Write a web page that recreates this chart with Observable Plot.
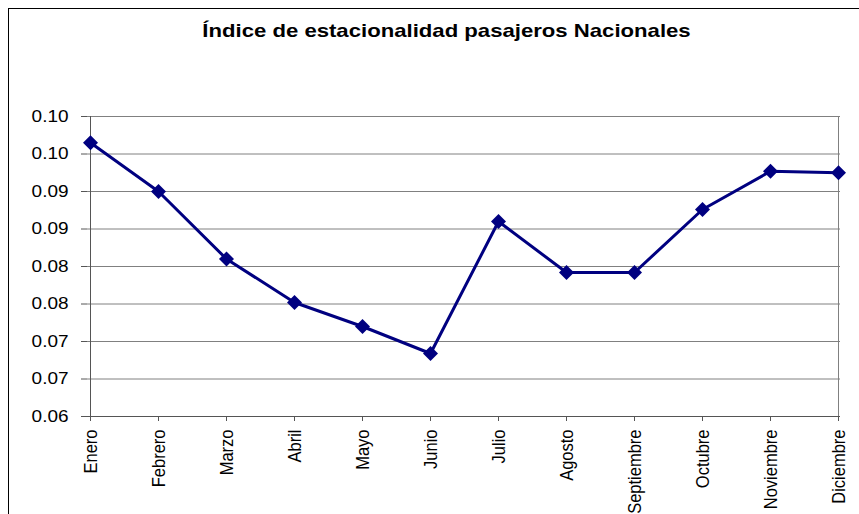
<!DOCTYPE html>
<html><head><meta charset="utf-8">
<script src="https://cdn.jsdelivr.net/npm/d3@7"></script>
<script src="https://cdn.jsdelivr.net/npm/@observablehq/plot@0.6"></script>
<style>
html,body{margin:0;padding:0;background:#fff}
body{width:859px;height:514px;overflow:hidden;position:relative;font-family:"Liberation Sans",Arial,sans-serif}
#frame{position:absolute;left:8px;top:8px;width:1000px;height:1000px;border:1px solid #000;box-sizing:border-box}
#title{position:absolute;left:0;top:20px;width:893px;text-align:center;font-weight:bold;font-size:19px;line-height:22px;color:#000;transform:scaleX(1.165);transform-origin:446.5px 50%}
#chart{position:absolute;left:0;top:0}
</style>
</head><body>
<div id="frame"></div>
<div id="title">Índice de estacionalidad pasajeros Nacionales</div>
<div id="chart"></div>
<script>
const months = ["Enero","Febrero","Marzo","Abril","Mayo","Junio","Julio","Agosto","Septiembre","Octubre","Noviembre","Diciembre"];
const values = [0.0965,0.0900,0.0810,0.0752,0.0720,0.0684,0.0860,0.0792,0.0792,0.0876,0.0927,0.0925];
const yTicks = [0.060,0.065,0.070,0.075,0.080,0.085,0.090,0.095,0.100];
const yTickLabels = ["0.06","0.07","0.07","0.08","0.08","0.09","0.09","0.10","0.10"];

const data = months.map((m, i) => ({month: m, value: values[i]}));
const fmtY = d => yTickLabels[yTicks.findIndex(t => Math.abs(t - d) < 1e-9)];
const font = "'Liberation Sans', Arial, sans-serif";

const chart = Plot.plot({
  width: 859,
  height: 514,
  marginLeft: 87,
  marginRight: 19,
  marginTop: 116,
  marginBottom: 98,
  style: {fontFamily: font, fontSize: "16.5px", color: "#000", background: "transparent", overflow: "visible"},
  x: {type: "point", domain: months, padding: 0, label: null},
  y: {domain: [0.06, 0.10], label: null},
  marks: [
    Plot.ruleY(yTicks, {stroke: "#808080", strokeWidth: 1}),
    Plot.ruleX([months[months.length - 1]], {stroke: "#808080", strokeWidth: 1}),
    Plot.ruleX([months[0]], {stroke: "#555", strokeWidth: 1}),
    Plot.ruleY([yTicks[0]], {stroke: "#555", strokeWidth: 1}),
    Plot.axisY({ticks: yTicks, tickFormat: fmtY, tickSize: 6, tickPadding: 13, stroke: "#555", fontSize: 16.5, fill: "#000", label: null, ariaLabel: "y-axis"}),
    Plot.axisX({tickRotate: -90, tickSize: 5, tickPadding: 8, stroke: "#555", fontSize: 16.5, fill: "#000", label: null, ariaLabel: "x-axis"}),
    Plot.line(data, {x: "month", y: "value", stroke: "#000080", strokeWidth: 3}),
    Plot.dot(data, {x: "month", y: "value", symbol: "square", rotate: 45, r: 6, fill: "#000080", stroke: "none"})
  ]
});
document.getElementById("chart").appendChild(chart);

// The reference's text is horizontally stretched; stretch tick labels the same way.
d3.select(chart).selectAll("g[aria-label$='tick label'] text").each(function() {
  const t = this.getAttribute("transform");
  if (t) {
    this.setAttribute("transform", t.replace(/\)/, ") scale(1.15,1)"));
  } else {
    const x = +this.getAttribute("x") || 0, y = +this.getAttribute("y") || 0;
    this.setAttribute("transform", `translate(${x},${y}) scale(1.15,1) translate(${-x},${-y})`);
  }
});
</script>
</body></html>
